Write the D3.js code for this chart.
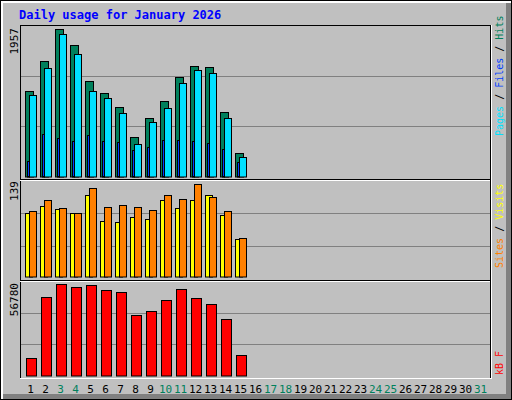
<!DOCTYPE html>
<html><head><meta charset="utf-8">
<script src="https://cdn.jsdelivr.net/npm/d3@7"></script>
<style>body{margin:0;background:#fff}text{font-family:"DejaVu Sans Mono",monospace}</style>
</head><body>
<script>
const days = d3.range(1, 32)
const weekends = [3, 4, 10, 11, 17, 18, 24, 25, 31]
const hits = [1131, 1528, 1957, 1741, 1263, 1104, 918, 520, 772, 998, 1316, 1462, 1449, 852, 308]
const files = [1077, 1436, 1891, 1621, 1131, 1037, 839, 427, 719, 905, 1237, 1409, 1369, 772, 255]
const pages = [202, 560, 507, 467, 547, 467, 454, 348, 387, 480, 480, 467, 440, 361, 188]
const visits = [95, 106, 101, 95, 122, 83, 82, 89, 86, 115, 103, 115, 122, 92, 56]
const sites = [98, 115, 103, 95, 133, 104, 107, 104, 100, 122, 116, 139, 119, 98, 58]
const kbytes = [10810, 48700, 56780, 54920, 56160, 53050, 51810, 37520, 40000, 46840, 53670, 48080, 44350, 35040, 12670]

const W = 512, H = 400
const svg = d3.select("body").append("svg").attr("width", W).attr("height", H)

// frame with bevel
svg.append("rect").attr("x", 0).attr("y", 0).attr("width", W).attr("height", H).attr("fill", "#000")
svg.append("rect").attr("x", 1).attr("y", 1).attr("width", W - 2).attr("height", H - 2).attr("fill", "#fff")
svg.append("rect").attr("x", 3).attr("y", 3).attr("width", W - 4).attr("height", H - 4).attr("fill", "#808080")
svg.append("rect").attr("x", 3).attr("y", 3).attr("width", W - 9).attr("height", H - 9).attr("fill", "#c0c0c0")

svg.append("text").attr("x", 19).attr("y", 19).attr("fill", "#0000ff")
  .attr("font-weight", "bold").attr("font-size", 12).text("Daily usage for January 2026")

const x = d3.scaleBand().domain(days).range([21, 486]).paddingInner(0)
const left = 20, right = 490

// plot area background and border
svg.append("rect").attr("x", left).attr("y", 25).attr("width", right - left).attr("height", 353).attr("fill", "#c0c0c0")

function panel(top, bottom, max) {
  const y = d3.scaleLinear().domain([0, max]).range([bottom, top + 4])
  const g = svg.append("g")
  const h = bottom - top
  ;[1, 2].forEach(k => {
    g.append("line").attr("x1", left).attr("x2", right)
      .attr("y1", Math.round(top + h * k / 3) + 0.5).attr("y2", Math.round(top + h * k / 3) + 0.5)
      .attr("stroke", "#808080")
  })
  return y
}

function bars(y, data, dx, w, color) {
  svg.append("g").selectAll("rect").data(data).enter().append("rect")
    .attr("x", (d, i) => x(days[i]) + dx + 0.5)
    .attr("y", d => Math.round(y(d)) + 0.5)
    .attr("width", w)
    .attr("height", d => y(0) - Math.round(y(d)))
    .attr("fill", color).attr("stroke", "#000")
}

const y1 = panel(25, 176.5, 1957)
y1.range([176.5, 29])
bars(y1, hits, 4, 8, "#00805c")
bars(y1, files, 8, 7, "#00e0ff")
bars(y1, pages, 6, 2, "#0040ff")

const y2 = panel(180, 279, 139)
y2.range([276.5, 184])
bars(y2, visits, 4, 7, "#ffff00")
bars(y2, sites, 8, 7, "#ff8000")

const y3 = panel(281, 376, 56780)
y3.range([375.5, 284])
bars(y3, kbytes, 5, 10, "#ff0000")

// borders
const ln = (x1, y1_, x2, y2_, c) => svg.append("line").attr("x1", x1).attr("y1", y1_).attr("x2", x2).attr("y2", y2_).attr("stroke", c).attr("stroke-width", 1)
ln(left, 25.5, right, 25.5, "#000")
ln(left + 0.5, 25, left + 0.5, 378, "#000")
ln(right + 0.5, 25, right + 0.5, 378, "#000")
ln(right + 1.5, 25, right + 1.5, 379, "#fff")
ln(left, 378.5, right + 1, 378.5, "#fff")
ln(left, 179.5, right, 179.5, "#000")
ln(left, 180.5, right, 180.5, "#fff")
ln(left, 280.5, right, 280.5, "#000")
ln(left, 281.5, right, 281.5, "#fff")

// day labels
svg.append("g").selectAll("text").data(days).enter().append("text")
  .attr("x", d => x(d) + x.bandwidth() / 2 + 2).attr("y", 393)
  .attr("text-anchor", "middle").attr("font-size", 11)
  .attr("font-family", "Liberation Sans, Arial")
  .attr("fill", d => weekends.includes(d) ? "#00805c" : "#000")
  .text(d => d)

// max labels on left
const maxLab = [[1957, 28], [139, 181], [56780, 283]]
maxLab.forEach(([v, yy]) => {
  svg.append("text").attr("transform", `translate(18,${yy}) rotate(-90)`)
    .attr("text-anchor", "end").attr("font-size", 11)
    .attr("font-family", "Liberation Serif, serif").attr("fill", "#000").text(v)
})

// right legends
function legend(yStart, parts) {
  const t = svg.append("text").attr("transform", `translate(503,${yStart}) rotate(-90)`)
    .attr("font-size", 10)
  parts.forEach(([s, c]) => t.append("tspan").attr("fill", c).text(s))
}
legend(136, [["Pages", "#00e0ff"], [" / ", "#000"], ["Files", "#0040ff"], [" / ", "#000"], ["Hits", "#00805c"]])
legend(268, [["Sites", "#ff8000"], [" / ", "#000"], ["Visits", "#ffff00"]])
legend(375, [["kB F", "#ff0000"]])
</script>
</body></html>
